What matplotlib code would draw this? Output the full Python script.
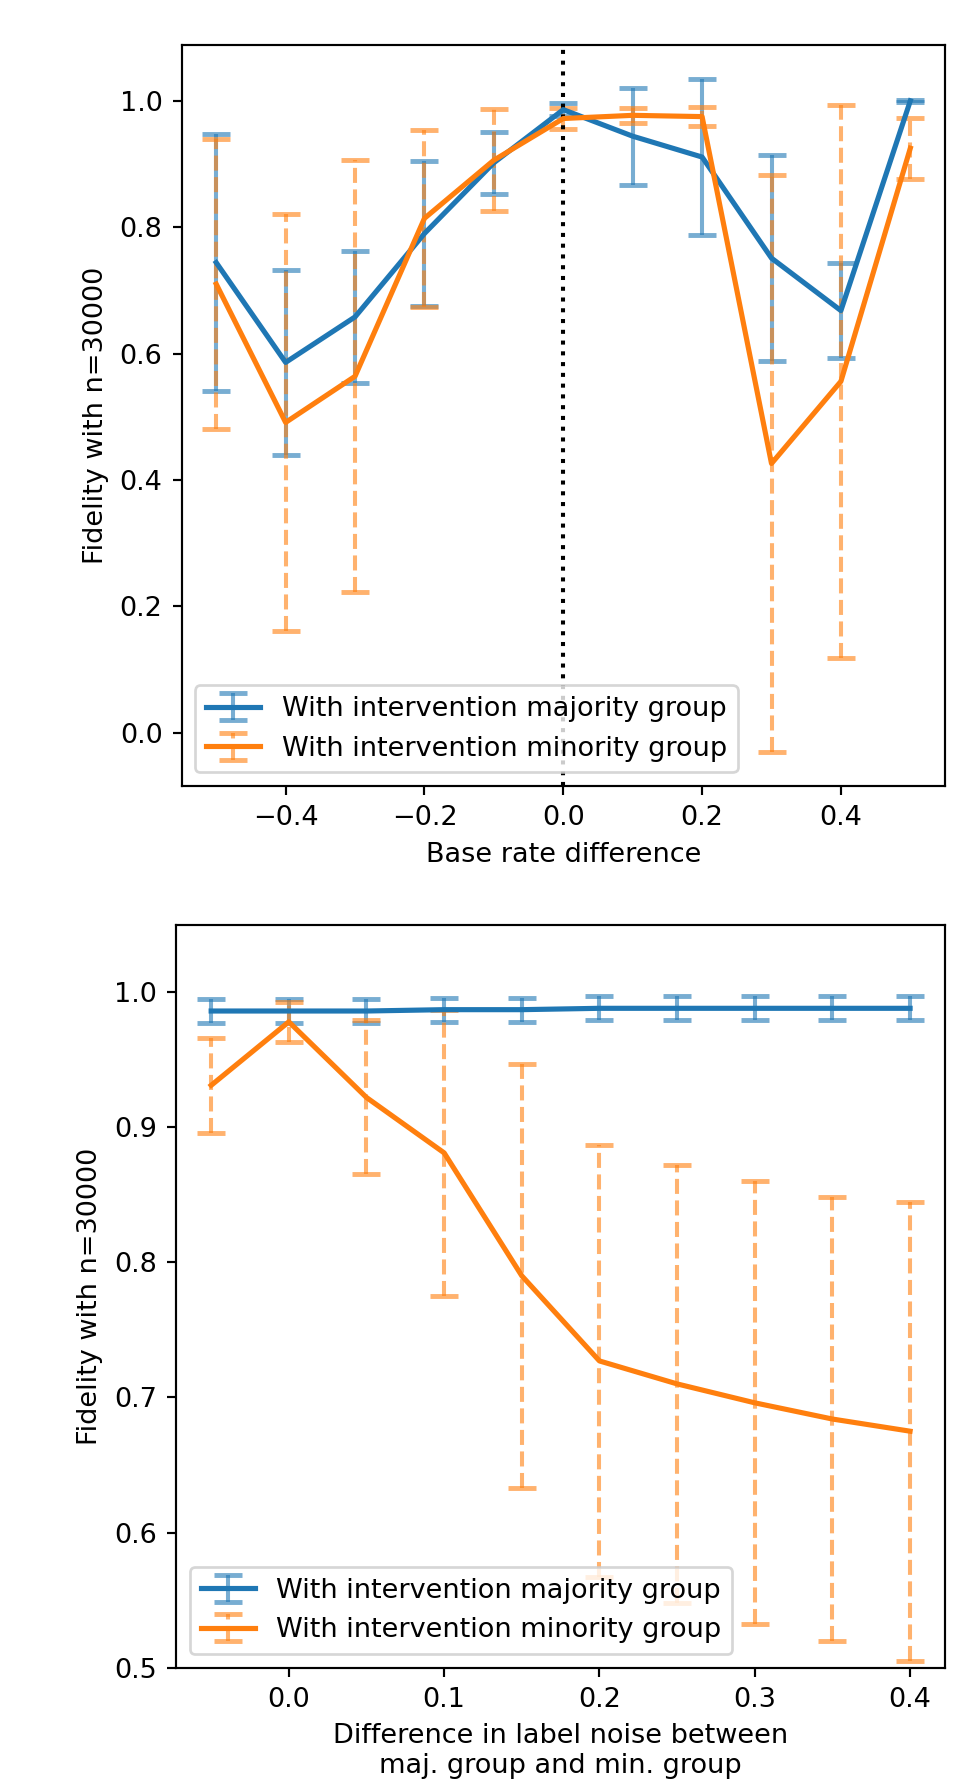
import matplotlib
matplotlib.use("Agg")
import matplotlib.pyplot as plt

# top panel: base rate difference
base_rate = [-0.5, -0.4, -0.3, -0.2, -0.1, 0.0, 0.1, 0.2, 0.3, 0.4, 0.5]
maj_base = [0.744, 0.586, 0.658, 0.790, 0.902, 0.986, 0.944, 0.911, 0.751, 0.668, 1.000]
maj_base_err = [0.203, 0.146, 0.105, 0.115, 0.049, 0.010, 0.077, 0.124, 0.163, 0.075, 0.002]
min_base = [0.710, 0.491, 0.564, 0.814, 0.906, 0.972, 0.977, 0.975, 0.426, 0.556, 0.925]
min_base_err = [0.230, 0.330, 0.342, 0.140, 0.081, 0.017, 0.012, 0.015, 0.457, 0.438, 0.048]

# bottom panel: label noise difference
noise = [-0.05, 0.0, 0.05, 0.1, 0.15, 0.2, 0.25, 0.3, 0.35, 0.4]
maj_noise = [0.986, 0.986, 0.986, 0.987, 0.987, 0.988, 0.988, 0.988, 0.988, 0.988]
maj_noise_err = [0.009, 0.009, 0.009, 0.009, 0.009, 0.009, 0.009, 0.009, 0.009, 0.009]
min_noise = [0.931, 0.978, 0.922, 0.881, 0.790, 0.727, 0.710, 0.696, 0.684, 0.675]
min_noise_err = [0.035, 0.015, 0.057, 0.106, 0.157, 0.160, 0.162, 0.164, 0.164, 0.170]

labels = ["With intervention majority group", "With intervention minority group"]

DPI = 195
fig = plt.figure(figsize=(979 / DPI, 1779 / DPI), dpi=DPI)
ax1 = fig.add_axes([0.1854, 0.5582, 0.7799, 0.4165])
ax2 = fig.add_axes([0.1800, 0.0626, 0.7853, 0.4177])


def tracer(ax, x, y, err, label, dashed):
    eb = ax.errorbar(x, y, yerr=err, capsize=5, capthick=1.8, elinewidth=1.5,
                     linewidth=1.9, label=label)
    for c in eb[1]:
        c.set_alpha(0.6)
    eb[2][0].set_alpha(0.6)
    if dashed:
        eb[2][0].set_linestyle("--")
    return eb


tracer(ax1, base_rate, maj_base, maj_base_err, labels[0], False)
tracer(ax1, base_rate, min_base, min_base_err, labels[1], True)
ax1.axvline(0, color="k", linestyle=":", linewidth=1.5)
ax1.set_xlabel("Base rate difference")
ax1.set_ylabel("Fidelity with n=30000")
ax1.legend(loc="lower left")

tracer(ax2, noise, maj_noise, maj_noise_err, labels[0], False)
tracer(ax2, noise, min_noise, min_noise_err, labels[1], True)
ax2.set_ylim(0.5, 1.05)
ax2.set_xlabel("Difference in label noise between\nmaj. group and min. group")
ax2.set_ylabel("Fidelity with n=30000")
ax2.legend(loc="lower left")

fig.savefig("out.png", dpi=DPI)
